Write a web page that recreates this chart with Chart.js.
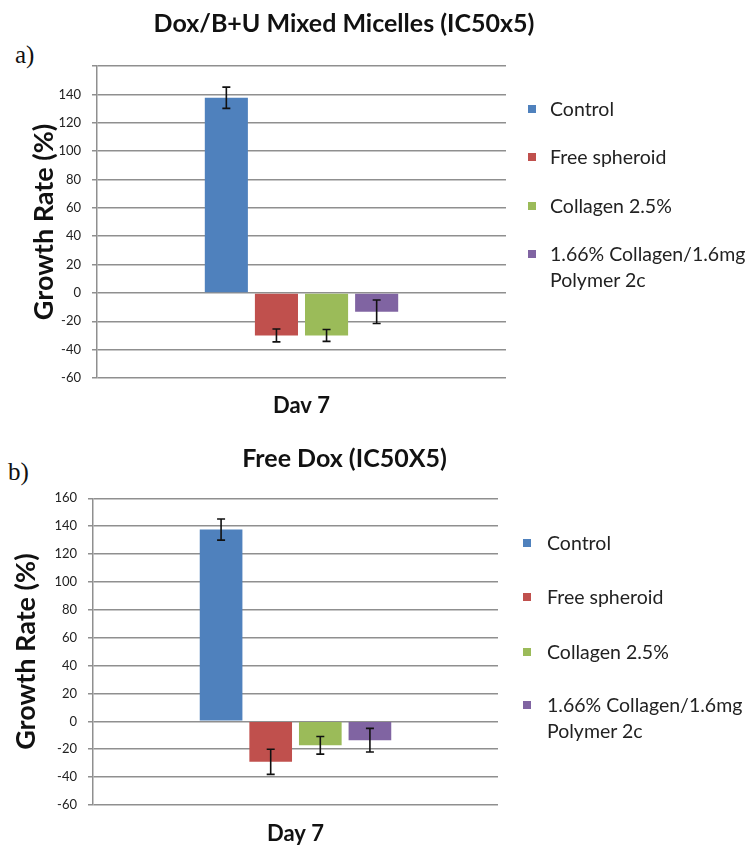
<!DOCTYPE html>
<html>
<head>
<meta charset="utf-8">
<script src="https://cdn.jsdelivr.net/npm/chart.js@4.4.1/dist/chart.umd.min.js"></script>
<style>
  body { margin: 0; background: #fff; width: 752px; height: 846px; position: relative; overflow: hidden; }
  canvas { position: absolute; left: 0; }
  #chartA { top: 0; }
  #chartB { top: 420px; }
  .panel { position: absolute; font-family: "Liberation Serif", serif; font-size: 25px; color: #111; line-height: 1; }
  .legend { position: absolute; font-family: Lato, sans-serif; font-size: 19.5px; color: #222; }
  .legend .item { position: absolute; white-space: nowrap; line-height: 26px; }
  .legend .box { position: absolute; width: 8px; height: 8px; }
</style>
</head>
<body>
<div class="panel" style="left:15px; top:42px;">a)</div>
<div class="panel" style="left:8px; top:459px;">b)</div>
<canvas id="chartA" width="688" height="420"></canvas>
<canvas id="chartB" width="689" height="426"></canvas>
<div class="legend" id="legendA"></div>
<div class="legend" id="legendB"></div>
<script>
// series
var seriesNames = ['Control', 'Free spheroid', 'Collagen 2.5%', '1.66% Collagen/1.6mg Polymer 2c'];
var seriesColors = ['#4F81BD', '#C0504D', '#9BBB59', '#8064A2'];

// a) Dox/B+U mixed micelles
var micelleLabels = ['Dav 7'];
var micelleValues = [137.6, -30, -30, -13.3];
var micelleErrors = [7.5, 4.5, 4.2, 8.3];

// b) free Dox
var freeDoxLabels = ['Day 7'];
var freeDoxValues = [137.6, -29, -17.2, -13.5];
var freeDoxErrors = [7.6, 9, 6.3, 8.5];

var yMin = -60, yMax = 160, yStep = 20;

var errorBars = {
    id: 'errorBars',
    afterDatasetsDraw: function (chart, args, opts) {
        var ctx = chart.ctx;
        var y = chart.scales.y;
        ctx.save();
        ctx.strokeStyle = '#111';
        ctx.lineWidth = 1.6;
        chart.data.datasets.forEach(function (ds, i) {
            var bar = chart.getDatasetMeta(i).data[0];
            var v = ds.data[0], e = ds.errors[0];
            var top = y.getPixelForValue(v + e), bottom = y.getPixelForValue(v - e);
            ctx.beginPath();
            ctx.moveTo(bar.x, top); ctx.lineTo(bar.x, bottom);
            ctx.moveTo(bar.x - 4, top); ctx.lineTo(bar.x + 4, top);
            ctx.moveTo(bar.x - 4, bottom); ctx.lineTo(bar.x + 4, bottom);
            ctx.stroke();
        });
        ctx.restore();
    }
};

function BuildDatasets(values, errors) {
    return seriesNames.map(function (name, i) {
        return {
            label: name,
            data: [values[i]],
            errors: [errors[i]],
            backgroundColor: seriesColors[i],
            categoryPercentage: 0.49,
            barPercentage: 0.86
        };
    });
}

function MakeChart(id, o) {
    var ctx = document.getElementById(id).getContext('2d');
    return new Chart(ctx, {
        type: 'bar',
        data: { labels: o.labels, datasets: BuildDatasets(o.values, o.errors) },
        plugins: [errorBars],
        options: {
            responsive: false,
            animation: false,
            layout: { padding: 0 },
            plugins: {
                legend: { display: false },
                tooltip: { enabled: false },
                title: {
                    display: true,
                    text: o.title,
                    color: '#111',
                    font: { family: 'Lato', size: 25, weight: 'bold', lineHeight: 1.2 },
                    padding: { top: o.titleTop, bottom: o.titleBottom }
                }
            },
            scales: {
                x: {
                    grid: { display: false },
                    border: { display: false },
                    ticks: { color: '#111', padding: o.xPad, font: { family: 'Lato', size: 22, weight: 'bold', lineHeight: 1.2 } },
                    afterFit: function (s) { s.height = o.xHeight; }
                },
                y: {
                    min: yMin,
                    max: yMax,
                    grid: { color: '#8f8f8f', lineWidth: 1.5, tickLength: 5 },
                    border: { color: '#8f8f8f', width: 1.5 },
                    ticks: {
                        stepSize: yStep,
                        color: '#222',
                        padding: 11,
                        font: { family: 'Lato', size: 13 },
                        callback: function (v) { return (o.hideTop && v === yMax) ? '' : v; }
                    },
                    title: {
                        display: true,
                        text: 'Growth Rate (%)',
                        color: '#111',
                        font: { family: 'Lato', size: 27, weight: 'bold', lineHeight: 1.2 },
                        padding: { top: o.yTitlePad, bottom: 0 }
                    },
                    afterFit: function (s) { s.width = o.yWidth; }
                },
                // empty right-hand axis that keeps room for the legend
                side: {
                    position: 'right',
                    grid: { display: false },
                    border: { display: false },
                    ticks: { display: false },
                    afterFit: function (s) { s.width = o.rightWidth; }
                }
            }
        }
    });
}

function BuildLegend(id, left, textLeft, rows) {
    var el = document.getElementById(id);
    seriesNames.forEach(function (name, i) {
        var box = document.createElement('div');
        box.className = 'box';
        box.style.left = left + 'px';
        box.style.top = (rows[i] - 4) + 'px';
        box.style.background = seriesColors[i];
        el.appendChild(box);
        var words = name === '1.66% Collagen/1.6mg Polymer 2c' ? ['1.66% Collagen/1.6mg', 'Polymer 2c'] : [name];
        words.forEach(function (w, j) {
            var t = document.createElement('div');
            t.className = 'item';
            t.textContent = w;
            t.style.left = textLeft + 'px';
            t.style.top = (rows[i] - 13 + j * 26) + 'px';
            el.appendChild(t);
        });
    });
}

MakeChart('chartA', {
    labels: micelleLabels, values: micelleValues, errors: micelleErrors,
    title: 'Dox/B+U Mixed Micelles (IC50x5)',
    rightWidth: 182, titleTop: 9, titleBottom: 27,
    yWidth: 97, xHeight: 42, xPad: 7, yTitlePad: 28, hideTop: true
});
MakeChart('chartB', {
    labels: freeDoxLabels, values: freeDoxValues, errors: freeDoxErrors,
    title: 'Free Dox (IC50X5)',
    rightWidth: 191, titleTop: 24, titleBottom: 24.3,
    yWidth: 93, xHeight: 41, xPad: 8, yTitlePad: 10, hideTop: false
});

BuildLegend('legendA', 528, 550, [108.5, 156.7, 205.7, 254.3]);
BuildLegend('legendB', 523, 547, [543.3, 596.7, 651.7, 705]);
</script>
</body>
</html>
